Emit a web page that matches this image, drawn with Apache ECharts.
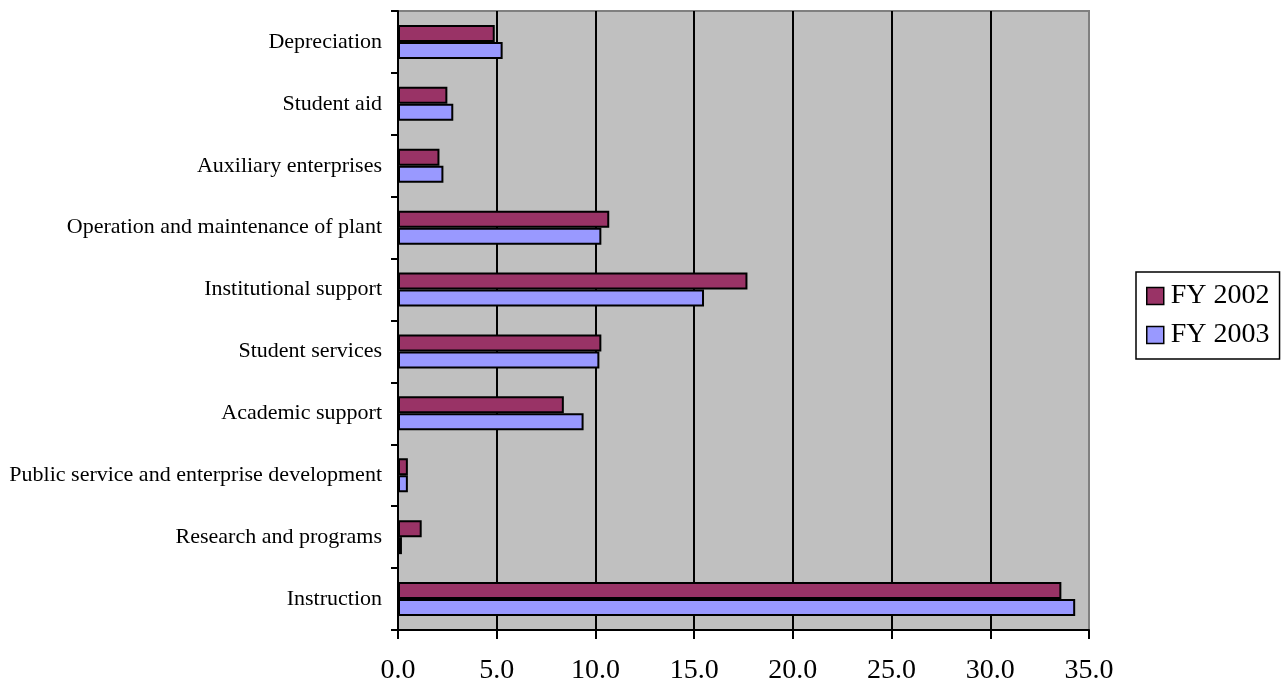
<!DOCTYPE html>
<html>
<head>
<meta charset="utf-8">
<script src="https://cdn.jsdelivr.net/npm/echarts@6/dist/echarts.min.js"></script>
<style>
  html, body { margin: 0; padding: 0; background: #fff; }
  #main { width: 1288px; height: 687px; }
</style>
</head>
<body>
<div id="main"></div>
<script>
// categories from bottom to top
var categories = [
  "Instruction",
  "Research and programs",
  "Public service and enterprise development",
  "Academic support",
  "Student services",
  "Institutional support",
  "Operation and maintenance of plant",
  "Auxiliary enterprises",
  "Student aid",
  "Depreciation"
];
var fy2002 = [33.6, 1.2, 0.5, 8.4, 10.3, 17.7, 10.7, 2.1, 2.5, 4.9];
var fy2003 = [34.3, 0.2, 0.5, 9.4, 10.2, 15.5, 10.3, 2.3, 2.8, 5.3];
var xTicks = [0, 5, 10, 15, 20, 25, 30, 35];

var chart = echarts.init(document.getElementById("main"));
var font = "'Liberation Serif', 'Times New Roman', serif";

var option = {
  backgroundColor: "#fff",
  animation: false,
  grid: {
    left: 398,
    top: 11,
    width: 691,
    height: 619,
    show: true,
    backgroundColor: "#c0c0c0",
    borderColor: "#808080",
    borderWidth: 2
  },
  legend: {
    data: ["FY 2002", "FY 2003"],
    orient: "vertical",
    left: 1136,
    top: 272,
    padding: [10, 10, 10, 10],
    itemGap: 11,
    itemWidth: 17,
    itemHeight: 17,
    icon: "rect",
    borderColor: "#000",
    borderWidth: 1.5,
    backgroundColor: "#fff",
    itemStyle: { borderColor: "#000", borderWidth: 1.5 },
    textStyle: { fontFamily: font, fontSize: 28, color: "#000", padding: [0, 0, 0, 2] }
  },
  xAxis: {
    type: "value",
    min: xTicks[0],
    max: xTicks[xTicks.length - 1],
    interval: 5,
    axisLine: { show: true, lineStyle: { color: "#000", width: 2 } },
    axisTick: { show: true, length: 9, lineStyle: { color: "#000", width: 2 } },
    axisLabel: {
      margin: 27,
      fontFamily: font,
      fontSize: 28,
      color: "#000",
      formatter: function (v) { return v.toFixed(1); }
    },
    splitLine: {
      show: true,
      showMinLine: false,
      showMaxLine: false,
      lineStyle: { color: "#000", width: 2 }
    }
  },
  yAxis: {
    type: "category",
    data: categories,
    axisLine: { show: true, lineStyle: { color: "#000", width: 2 } },
    axisTick: { show: true, length: 7, lineStyle: { color: "#000", width: 2 } },
    axisLabel: {
      margin: 16,
      fontFamily: font,
      fontSize: 22,
      color: "#000"
    },
    splitLine: { show: false }
  },
  series: [
    {
      name: "FY 2002",
      type: "bar",
      data: fy2002,
      barWidth: 17,
      barGap: "0%",
      itemStyle: { color: "#993366", borderColor: "#000", borderWidth: 2 }
    },
    {
      name: "FY 2003",
      type: "bar",
      data: fy2003,
      barWidth: 17,
      barGap: "0%",
      itemStyle: { color: "#9999ff", borderColor: "#000", borderWidth: 2 }
    }
  ]
};
chart.setOption(option);
window.addEventListener("resize", function () {
  chart.resize();
});
</script>
</body>
</html>
